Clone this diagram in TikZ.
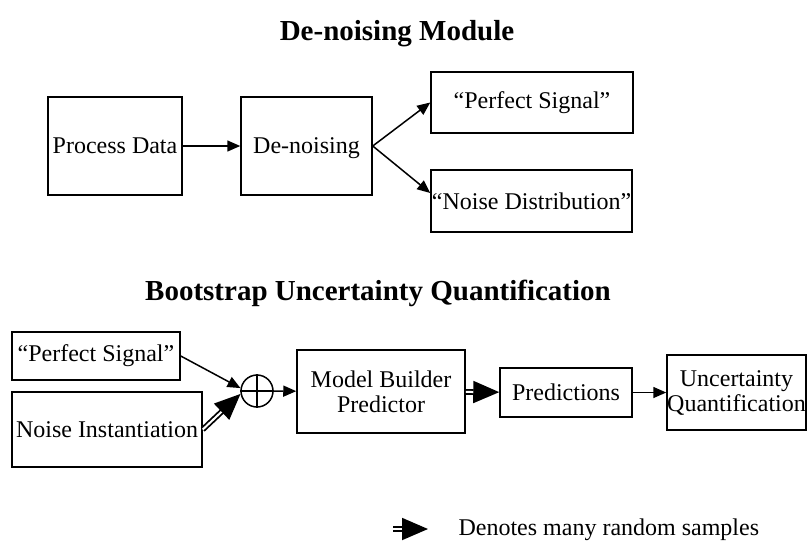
\documentclass[tikz,border=0pt]{standalone}
\usepackage{fontspec}
\setmainfont{Liberation Serif}
\usetikzlibrary{arrows.meta,positioning,shapes}

\begin{document}
\begin{tikzpicture}[x=1pt,y=-1pt,
box/.style={draw,line width=1.5pt,inner sep=0pt,align=center,font=\fontsize{24}{25}\selectfont},
ttl/.style={anchor=base,font=\bfseries\fontsize{29}{31}\selectfont},
one/.style={line width=1.5pt,-{Triangle[length=13pt,width=11pt]}},
many/.style={double,double distance=2pt,line width=1.8pt,-{Triangle[length=26pt,width=22pt]}}]
\useasboundingbox (0,0) rectangle (808,542);
\node[ttl] (top) at (397,40) {De-noising Module};
\node[box,minimum width=134pt,minimum height=98pt] (proc) at (115,146) {Process Data};
\node[box,minimum width=131pt,minimum height=98pt,text depth=0pt] (den) at (306.5,146) {De-noising};
\node[box,minimum width=202pt,minimum height=61pt] (sig) at (532,102.5) {“Perfect Signal”};
\node[box,minimum width=201pt,minimum height=62pt] (dist) at (531.5,201) {“Noise Distribution”};
\draw[one] (proc) -- (den);
\draw[one] (den.east) -- (sig.west);
\draw[one] (den.east) -- ([yshift=8pt]dist.west);
\node[ttl] (boot) at (378,300) {Bootstrap Uncertainty Quantification};
\node[box,minimum width=168pt,minimum height=48pt] (sig2) at (96,356) {“Perfect Signal”};
\node[box,minimum width=190pt,minimum height=75pt] (inst) at (107,429.5) {Noise Instantiation};
\node[draw,circle,line width=1.5pt,minimum size=32pt,inner sep=0pt] (sum) at (257,391) {};
\draw[line width=1.5pt] (sum.north) -- (sum.south) (sum.west) -- (sum.east);
\node[box,minimum width=168pt,minimum height=83pt] (model) at (381,391.5) {Model Builder\\Predictor};
\node[box,minimum width=132pt,minimum height=49pt] (pred) at (566,392.5) {Predictions};
\node[box,minimum width=139pt,minimum height=75pt] (unc) at (736.5,392.5) {Uncertainty\\Quantification};
\draw[one] (sig2.east) -- (sum.170);
\draw[many] (inst.east) -- (sum.190);
\draw[one] (sum) -- (model);
\draw[many] (model) -- (pred);
\draw[one] (pred) -- (unc);
\coordinate (k1) at (393,529);
\coordinate (k2) at (428,529);
\draw[many] (k1) -- (k2);
\node[anchor=base west,font=\fontsize{24}{25}\selectfont] (key) at (455,535) {Denotes many random samples};
\end{tikzpicture}
\end{document}
